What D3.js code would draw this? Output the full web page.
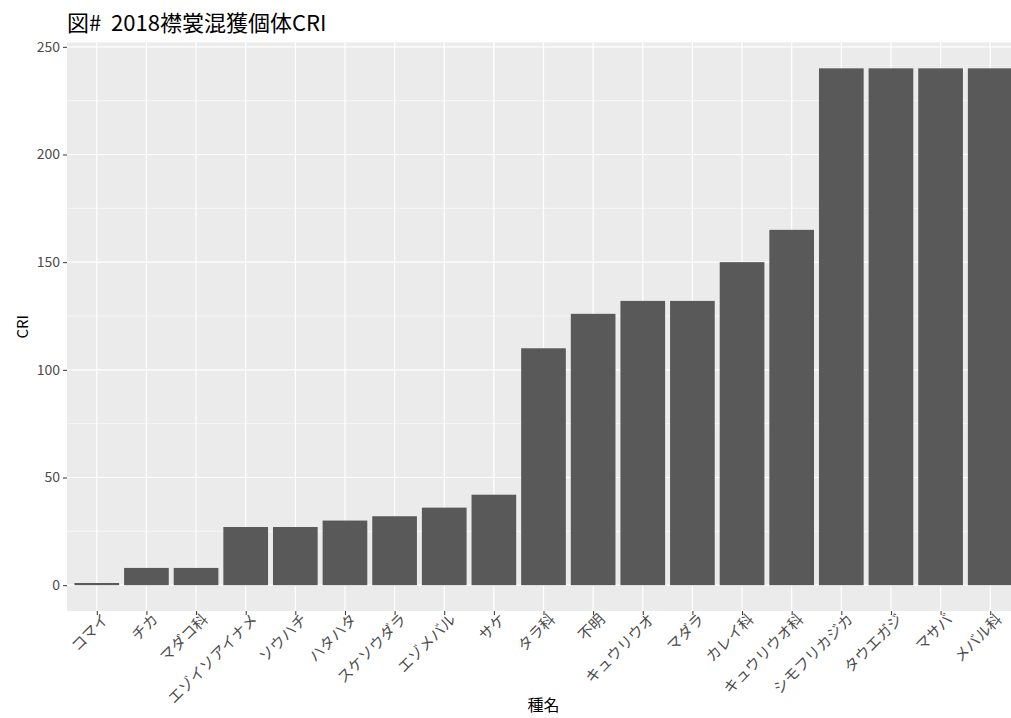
<!DOCTYPE html>
<html>
<head>
<meta charset="utf-8">
<script src="https://cdn.jsdelivr.net/npm/d3@7"></script>
<style>
  body { margin: 0; background: #fff; }
  text { font-family: "Noto Sans CJK JP", "Noto Sans", sans-serif; }
</style>
</head>
<body>
<div id="chart"></div>
<script>
const species = ["コマイ", "チカ", "マダコ科", "エゾイソアイナメ", "ソウハチ", "ハタハタ", "スケソウダラ", "エゾメバル", "サケ", "タラ科", "不明", "キュウリウオ", "マダラ", "カレイ科", "キュウリウオ科", "シモフリカジカ", "タウエガジ", "マサバ", "メバル科"]
const cri = [1, 8, 8, 27, 27, 30, 32, 36, 42, 110, 126, 132, 132, 150, 165, 240, 240, 240, 240]
const yTicks = [0, 50, 100, 150, 200, 250]
const yMinor = [25, 75, 125, 175, 225]

const width = 1011
const height = 718
const margin = {top: 42.5, right: -9, bottom: 107, left: 67}
const chartWidth = width - margin.left - margin.right
const chartHeight = height - margin.top - margin.bottom

const n = species.length
const x = d3.scaleLinear()
  .domain([0.4, n + 0.6])
  .range([0, chartWidth])

const y = d3.scaleLinear()
  .domain([-12, 252])
  .range([chartHeight, 0])

const svg = d3.select('#chart').append('svg')
  .attr('width', width)
  .attr('height', height)

const g = svg.append('g')
  .attr('transform', `translate(${margin.left}, ${margin.top})`)

// panel
g.append('rect')
  .attr('width', chartWidth)
  .attr('height', chartHeight)
  .attr('fill', '#ebebeb')

// minor grid
g.selectAll('.minor')
  .data(yMinor)
  .enter().append('line')
  .attr('x1', 0).attr('x2', chartWidth)
  .attr('y1', d => y(d)).attr('y2', d => y(d))
  .attr('stroke', '#fff')
  .attr('stroke-width', 0.6)

// major grid
g.selectAll('.hmajor')
  .data(yTicks)
  .enter().append('line')
  .attr('x1', 0).attr('x2', chartWidth)
  .attr('y1', d => y(d)).attr('y2', d => y(d))
  .attr('stroke', '#fff')
  .attr('stroke-width', 1.2)

g.selectAll('.vmajor')
  .data(species)
  .enter().append('line')
  .attr('x1', (d, i) => x(i + 1)).attr('x2', (d, i) => x(i + 1))
  .attr('y1', 0).attr('y2', chartHeight)
  .attr('stroke', '#fff')
  .attr('stroke-width', 1.2)

// bars
const bw = x(0.9) - x(0)
g.selectAll('.bar')
  .data(cri)
  .enter().append('rect')
  .attr('x', (d, i) => x(i + 1) - bw / 2)
  .attr('width', bw)
  .attr('y', d => y(d))
  .attr('height', d => y(0) - y(d))
  .attr('fill', '#595959')

// y axis
const yAxis = g.append('g')
  .call(d3.axisLeft(y).tickValues(yTicks).tickSize(4).tickPadding(3))
yAxis.select('.domain').remove()
yAxis.selectAll('.tick line').attr('stroke', '#333').attr('stroke-width', 1)
yAxis.selectAll('.tick text')
  .attr('fill', '#4d4d4d')
  .style('font-size', '14px')

// x axis
const xAxis = g.append('g')
  .attr('transform', `translate(0, ${chartHeight})`)
  .call(d3.axisBottom(x).tickValues(d3.range(1, n + 1)).tickSize(4).tickFormat(d => species[d - 1]))
xAxis.select('.domain').remove()
xAxis.selectAll('.tick line').attr('stroke', '#333').attr('stroke-width', 1)
xAxis.selectAll('.tick text')
  .attr('fill', '#4d4d4d')
  .style('font-size', '15px')
  .attr('text-anchor', 'end')
  .attr('dy', '0.75em')
  .attr('y', 4)
  .attr('x', 2)
  .attr('transform', 'rotate(-45)')

// labels
svg.append('text')
  .attr('x', margin.left + chartWidth / 2)
  .attr('y', 711)
  .attr('text-anchor', 'middle')
  .attr('fill', '#000')
  .style('font-size', '16px')
  .text('種名')

svg.append('text')
  .attr('transform', `translate(28, ${margin.top + y(120)}) rotate(-90)`)
  .attr('text-anchor', 'middle')
  .attr('fill', '#000')
  .style('font-size', '15px')
  .text('CRI')

svg.append('text')
  .attr('x', 67)
  .attr('y', 31)
  .attr('fill', '#000')
  .style('font-size', '22px')
  .style('white-space', 'pre')
  .text('図#  2018襟裳混獲個体CRI')
</script>
</body>
</html>
